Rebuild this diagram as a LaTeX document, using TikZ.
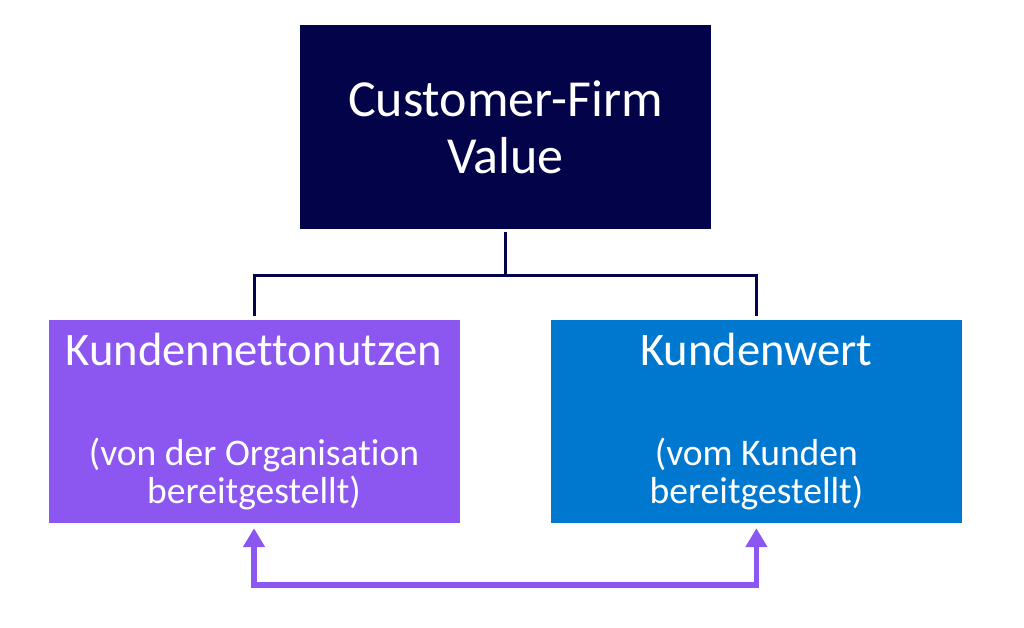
\documentclass[tikz,border=0pt]{standalone}
\usepackage{fontspec}
\setmainfont{Carlito}[Ligatures=NoCommon]
\usetikzlibrary{arrows.meta,positioning}
\definecolor{cfnavy}{RGB}{3,3,74}
\definecolor{cfpurple}{RGB}{139,87,240}
\definecolor{cfblue}{RGB}{0,120,208}
\newcommand{\Hfont}{\fontsize{46.6}{50}\selectfont}
\newcommand{\Sfont}{\fontsize{37.6}{38}\selectfont}
\tikzset{
  blk/.style={minimum width=411pt, minimum height=203pt, inner sep=0pt,
              align=center, text=white},
  ttl/.style={font=\fontsize{52}{57}\selectfont},
  sub/.style={font=\Sfont},
  treeln/.style={cfnavy, line width=3pt, shorten <=3pt, shorten >=4pt},
  swaparr/.style={{Triangle[length=19pt, width=21pt]}-{Triangle[length=19pt, width=21pt]},
                  cfpurple, line width=5.5pt, shorten <=5pt, shorten >=5pt},
}
\begin{document}
\begin{tikzpicture}[x=1pt, y=-1pt]
  \useasboundingbox (0,0) rectangle (1024,628);
  % boxes
  \node[blk, ttl, fill=cfnavy, minimum height=204pt] (cfv) at (505.5,127) {Customer-Firm\\Value};
  \node[blk, sub, fill=cfpurple] (nutzen) at (254,421.5)
    {{\Hfont Kundennettonutzen}\\[62pt](von der Organisation\\bereitgestellt)};
  \node[blk, sub, fill=cfblue, right=91pt of nutzen] (wert)
    {{\Hfont Kundenwert}\\[62pt](vom Kunden\\bereitgestellt)};
  % tree lines
  \coordinate (fork) at (505.5,275);
  \draw[treeln] (cfv.south) -- (fork) -| (nutzen.north);
  \draw[treeln, shorten <=0pt] (fork) -| (wert.north);
  % exchange arrow
  \coordinate (base) at (505.5,585);
  \draw[swaparr] (nutzen.south) |- (base) -| (wert.south);
\end{tikzpicture}
\end{document}
